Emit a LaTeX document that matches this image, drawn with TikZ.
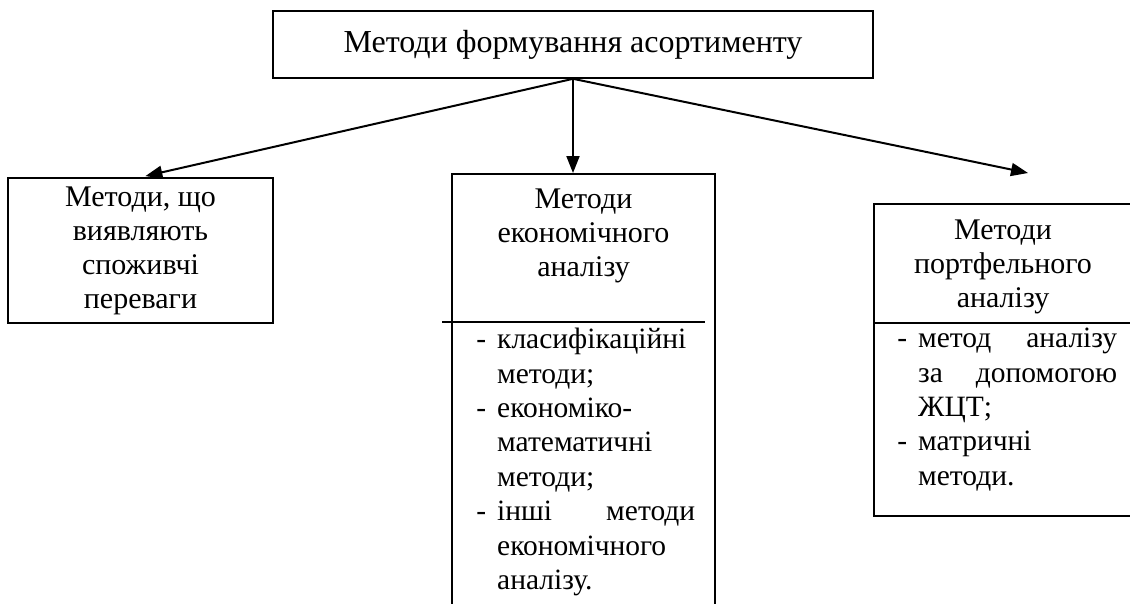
\documentclass[tikz,border=0pt]{standalone}
\usepackage{fontspec}
\setmainfont{Liberation Serif}
\usetikzlibrary{arrows.meta}
\newcommand{\dsh}{\leavevmode\llap{-\hspace*{11pt}}}
\newcommand{\jline}[3]{\leavevmode\hbox to #1{#2\hfill #3}}
\tikzset{
  box/.style={draw, line width=1.6pt, inner sep=0pt},
  txt/.style={font=\fontsize{30}{34}\selectfont, inner sep=0pt},
  lst/.style={font=\fontsize{29.5}{34.4}\selectfont, inner sep=0pt, align=left, anchor=north west},
  arr/.style={line width=2pt, -{Triangle[length=17pt,width=13pt]}},
}
\begin{document}
\begin{tikzpicture}[x=1pt,y=-1pt]
	\clip (0,0) rectangle (1130,603);
	% upper box
	\node[box,txt,font=\fontsize{32}{36}\selectfont,minimum width=600,minimum height=67] (top) at (573,44.5) {Методи формування асортименту};
	% three lower boxes
	\node[box,txt,align=center,minimum width=265,minimum height=145] (lm) at (140.5,250.5) {Методи, що\\виявляють\\споживчі\\переваги};
	\node[box,minimum width=263,minimum height=487,anchor=north] (mm) at (583.5,173) {};
	\node[txt,align=center] (mh) at (583.5,236) {Методи\\економічного\\аналізу};
	\draw[line width=1.6pt] (442,322) -- (705,322);
	\node[lst,text width=198] (ml) at (497,328) {\dsh класифікаційні\\методи;\\\dsh економіко-\\математичні\\методи;\\\dsh\jline{198pt}{інші}{методи}\\економічного\\аналізу.};
	\node[box,minimum width=261,minimum height=312,anchor=north west] (rm) at (873,203) {};
	\node[txt,align=center] (rh) at (1003,267) {Методи\\портфельного\\аналізу};
	\draw[line width=1.6pt] (873,323) -- (1134,323);
	\node[lst,text width=199] (rl) at (918,328) {\dsh\jline{199pt}{метод}{аналізу}\\\jline{199pt}{за}{допомогою}\\ЖЦТ;\\\dsh матричні\\методи.};
	% arrows
	\coordinate (ra) at (1028,173);
	\draw[arr,shorten >=5pt] (top.south) -- (lm.north);
	\draw[arr] (top.south) -- (top.south |- mm.north);
	\draw[arr] (top.south) -- (ra);
\end{tikzpicture}
\end{document}
